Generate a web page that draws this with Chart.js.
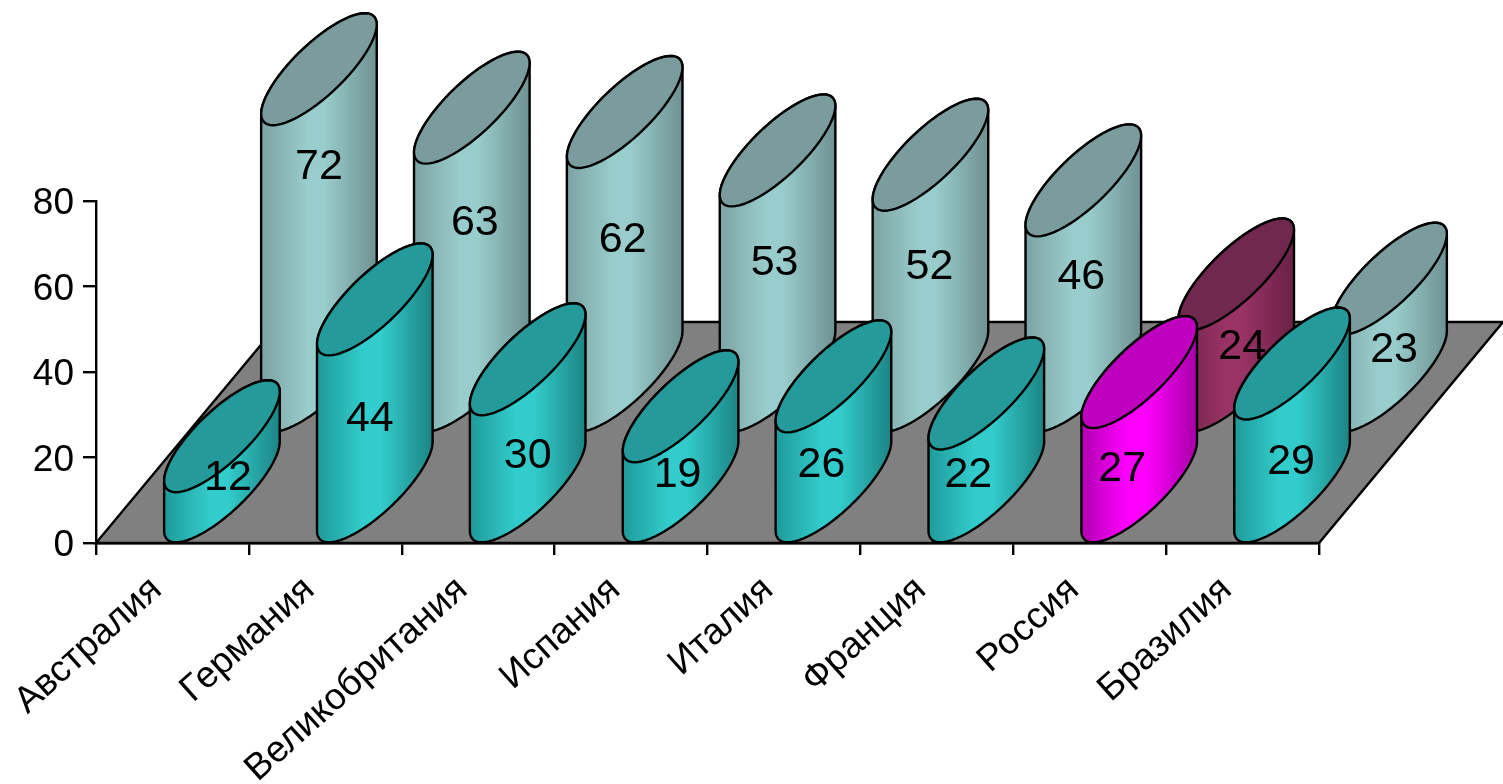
<!DOCTYPE html>
<html lang="ru">
<head>
<meta charset="utf-8">
<title>Столбчатая диаграмма</title>
<script src="https://cdn.jsdelivr.net/npm/chart.js@4"></script>
<style>
  html, body { margin: 0; padding: 0; background: #fff; }
  canvas { display: block; }
</style>
</head>
<body>
<canvas id="chart" width="1503" height="784"></canvas>
<script>
// Values
const categories = ['Австралия', 'Германия', 'Великобритания', 'Испания', 'Италия', 'Франция', 'Россия', 'Бразилия'];
const frontValues = [12, 44, 30, 19, 26, 22, 27, 29];
const backValues = [72, 63, 62, 53, 52, 46, 24, 23];

// Colour ramps: left edge, bright middle, right edge, lid
const TEAL = ['#1f9a9a', '#33cccc', '#1c8484', '#259a9a'];
const PALE = ['#7da3a3', '#99cccc', '#6f9191', '#7a9c9c'];
const MAGENTA = ['#b000b0', '#ff00ff', '#a800a8', '#bf00bf'];
const WINE = ['#702348', '#993366', '#6a2145', '#70284e'];
const frontRamps = [TEAL, TEAL, TEAL, TEAL, TEAL, TEAL, MAGENTA, TEAL];
const backRamps = [PALE, PALE, PALE, PALE, PALE, PALE, WINE, PALE];

// Value label placement relative to the centre of each cylinder's lid
const frontLabelNudgeX = [6, -5, 0, -3, -12, -18, -17, -1];
const frontLabelNudgeY = [42, 120, 97, 69, 89, 82, 97, 99];
const backLabelNudgeX = [0, 3, -2, -3, -1, -2, 6, 5];
const backLabelNudgeY = [98, 115, 128, 113, 112, 97, 73, 71];

// Oblique projection of the floor and of the cylinder cross-section
const FLOOR_DEPTH = { x: 184, y: -221 };
const FRONT_ROW = { x: 49.5, y: -55.5 };
const BACK_ROW = { x: 146.5, y: -166 };
const SECTION = { a: 35, bx: 46, by: 56 };
const TANGENT = Math.atan2(SECTION.bx, SECTION.a);

const FONT = '"Liberation Sans", Arial, sans-serif';
const LINE = 2.4;

function ellipsePoint(cx, cy, t) {
  return [
    cx + SECTION.a * Math.cos(t) + SECTION.bx * Math.sin(t),
    cy - SECTION.by * Math.sin(t)
  ];
}

function traceArc(ctx, cx, cy, from, to, start) {
  const steps = 64;
  for (let i = 0; i <= steps; i++) {
    const p = ellipsePoint(cx, cy, from + (to - from) * i / steps);
    if (i === 0 && start) ctx.moveTo(p[0], p[1]); else ctx.lineTo(p[0], p[1]);
  }
}

function drawCylinder(ctx, bar, row, ramp) {
  const cx = bar.x + row.x;
  const topY = bar.y + row.y;
  const baseY = bar.base + row.y;
  const halfW = Math.hypot(SECTION.a, SECTION.bx);

  const gradient = ctx.createLinearGradient(cx - halfW, 0, cx + halfW, 0);
  gradient.addColorStop(0, ramp[0]);
  gradient.addColorStop(0.4, ramp[1]);
  gradient.addColorStop(0.55, ramp[1]);
  gradient.addColorStop(1, ramp[2]);

  ctx.save();
  ctx.lineWidth = LINE;
  ctx.strokeStyle = '#000';
  ctx.lineJoin = 'round';

  // Body: silhouette from the lid down to the lower half of the base
  ctx.beginPath();
  traceArc(ctx, cx, baseY, TANGENT + Math.PI, TANGENT + 2 * Math.PI, true);
  traceArc(ctx, cx, topY, TANGENT, TANGENT + Math.PI, false);
  ctx.closePath();
  ctx.fillStyle = gradient;
  ctx.fill();
  ctx.stroke();

  // Lid
  ctx.beginPath();
  traceArc(ctx, cx, topY, 0, 2 * Math.PI, true);
  ctx.closePath();
  ctx.fillStyle = ramp[3];
  ctx.fill();
  ctx.stroke();
  ctx.restore();
}

class CylinderController extends Chart.BarController {
  draw() {
    const ds = this.getDataset();
    this._cachedMeta.data.forEach((bar, i) => {
      drawCylinder(this.chart.ctx, bar, ds.row, ds.ramps[i]);
    });
  }
}
CylinderController.id = 'cylinder';
CylinderController.defaults = Chart.BarController.defaults;
CylinderController.overrides = Chart.BarController.overrides;
Chart.register(CylinderController);

// Grey floor under the two rows of cylinders
const floorPlugin = {
  id: 'floor',
  beforeDatasetsDraw(chart) {
    const { ctx } = chart;
    const x = chart.scales.x;
    const y0 = chart.scales.y.getPixelForValue(0);
    ctx.save();
    ctx.beginPath();
    ctx.moveTo(x.left, y0);
    ctx.lineTo(x.right, y0);
    ctx.lineTo(x.right + FLOOR_DEPTH.x, y0 + FLOOR_DEPTH.y);
    ctx.lineTo(x.left + FLOOR_DEPTH.x, y0 + FLOOR_DEPTH.y);
    ctx.closePath();
    ctx.fillStyle = '#808080';
    ctx.fill();
    ctx.lineWidth = LINE;
    ctx.strokeStyle = '#000';
    ctx.stroke();
    ctx.restore();
  }
};

// Value captions on the cylinders
const valueLabelPlugin = {
  id: 'valueLabels',
  afterDatasetsDraw(chart) {
    const { ctx } = chart;
    ctx.save();
    ctx.font = '43px ' + FONT;
    ctx.fillStyle = '#000';
    ctx.textAlign = 'center';
    ctx.textBaseline = 'middle';
    chart.data.datasets.forEach((ds, d) => {
      chart.getDatasetMeta(d).data.forEach((bar, i) => {
        ctx.fillText(
          String(ds.data[i]),
          bar.x + ds.row.x + ds.nudgeX[i],
          bar.y + ds.row.y + ds.nudgeY[i]
        );
      });
    });
    ctx.restore();
  }
};

new Chart(document.getElementById('chart'), {
  type: 'cylinder',
  data: {
    labels: categories,
    datasets: [
      { label: 'Передний ряд', data: frontValues, row: FRONT_ROW, ramps: frontRamps,
        nudgeX: frontLabelNudgeX, nudgeY: frontLabelNudgeY, grouped: false, clip: false },
      { label: 'Задний ряд', data: backValues, row: BACK_ROW, ramps: backRamps,
        nudgeX: backLabelNudgeX, nudgeY: backLabelNudgeY, grouped: false, clip: false }
    ]
  },
  plugins: [floorPlugin, valueLabelPlugin],
  options: {
    responsive: false,
    animation: false,
    events: [],
    layout: { padding: { left: 0, right: 184, top: 201, bottom: 0 } },
    plugins: { legend: { display: false }, tooltip: { enabled: false } },
    scales: {
      x: {
        type: 'category',
        afterFit(scale) { scale.height = 241; },
        border: { display: true, color: '#000', width: LINE },
        grid: { drawOnChartArea: false, drawTicks: true, tickLength: 12, tickColor: '#000', lineWidth: LINE, offset: true },
        ticks: {
          autoSkip: false, minRotation: 42, maxRotation: 42, padding: 13, labelOffset: -16,
          color: '#000', font: { family: FONT, size: 37 }
        }
      },
      y: {
        type: 'linear', min: 0, max: 80,
        afterFit(scale) { scale.width = 96; },
        border: { display: true, color: '#000', width: LINE },
        grid: { drawOnChartArea: false, drawTicks: true, tickLength: 13, tickColor: '#000', lineWidth: LINE },
        ticks: { stepSize: 20, padding: 9, labelOffset: 3, color: '#000', font: { family: FONT, size: 37 } }
      }
    }
  }
});
</script>
</body>
</html>
